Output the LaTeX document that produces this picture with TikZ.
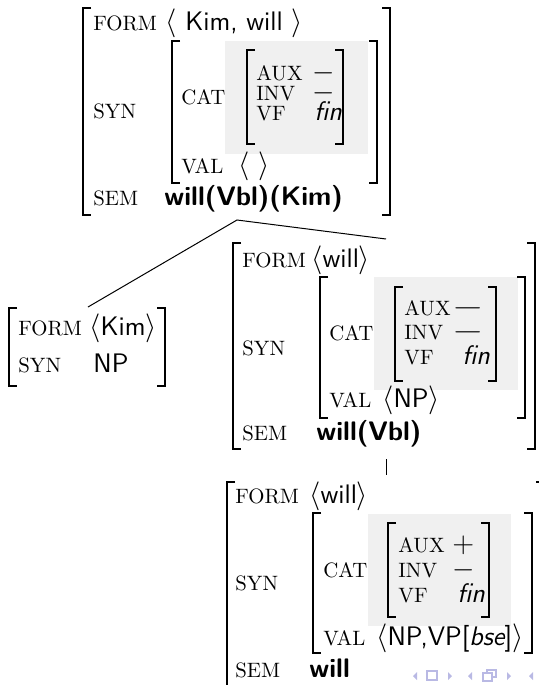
\documentclass[tikz,border=0pt]{standalone}
\definecolor{boxgray}{RGB}{240,240,240}
\definecolor{navcol}{RGB}{185,185,228}
\newcommand\avmL[3]{\draw[br] (#1+8,#2) -- (#1,#2) -- (#1,#3) -- (#1+8,#3);}
\newcommand\avmR[3]{\draw[br] (#1-8,#2) -- (#1,#2) -- (#1,#3) -- (#1-8,#3);}
\begin{document}
\begin{tikzpicture}[x=0.5pt,y=-0.5pt,
  fn/.style={anchor=base west,inner sep=0pt,font=\fontsize{10.4}{12}\selectfont\rmfamily},
  vl/.style={anchor=base west,inner sep=0pt,font=\fontsize{13.4}{15}\selectfont\sffamily},
  bv/.style={anchor=base west,inner sep=0pt,font=\fontsize{13.4}{15}\selectfont\sffamily\bfseries},
  br/.style={line width=0.65pt},
  tl/.style={line width=0.5pt},
  shade/.style={fill=boxgray,draw=none},
  nav/.style={fill=navcol,draw=none}]
\useasboundingbox (0,0) rectangle (539,685);
\clip (0,0) rectangle (539,685);

% ---------- top AVM ----------
\fill[shade] (225,41) rectangle (368,154);
\avmL{83}{8}{215} \avmR{390}{8}{215}
\avmL{172}{41}{183} \avmR{377}{41}{183}
\avmL{247}{50}{144} \avmR{343}{50}{144}
\node[fn] (t-form) at (93,31) {FORM};
\node[vl] (t-formv) at (165,31) {$\langle$ Kim, will $\rangle$};
\node[fn] (t-syn) at (93,118) {SYN};
\node[fn] (t-cat) at (181,104) {CAT};
\node[fn] (t-aux) at (256,80) {AUX};
\node[vl] (t-auxv) at (312,80) {$-$};
\node[fn] (t-inv) at (256,100) {INV};
\node[vl] (t-invv) at (312,100) {$-$};
\node[fn] (t-vf) at (256,120) {VF};
\node[vl] (t-vfv) at (314,120) {\itshape fin};
\node[fn] (t-val) at (181,173) {VAL};
\node[vl] (t-valv) at (238,173) {$\langle$\ $\rangle$};
\node[fn] (t-sem) at (93,205) {SEM};
\node[bv] (t-semv) at (164,205) {will(Vbl)(Kim)};

% ---------- tree lines ----------
\coordinate (apex) at (237,220);
\coordinate (kimtop) at (88,307);
\coordinate (willtop) at (386,239);
\coordinate (lexup) at (386,459);
\coordinate (lexdown) at (386,475);
\draw[tl] (kimtop) -- (apex) -- (willtop);
\draw[tl] (lexup) -- (lexdown);

% ---------- Kim AVM ----------
\avmL{9}{308}{386} \avmR{165}{308}{386}
\node[fn] (k-form) at (18,335) {FORM};
\node[vl] (k-formv) at (89,335) {$\langle$Kim$\rangle$};
\node[fn] (k-syn) at (18,372) {SYN};
\node[vl] (k-synv) at (93,372) {NP};

% ---------- middle AVM ----------
\fill[shade] (374,277) rectangle (518,390);
\avmL{233}{243}{449} \avmR{535}{243}{449}
\avmL{320}{277}{418} \avmR{525}{277}{418}
\avmL{395}{287}{381} \avmR{496}{287}{381}
\node[fn] (m-form) at (242,267) {FORM};
\node[vl] (m-formv) at (311,267) {$\langle$will$\rangle$};
\node[fn] (m-syn) at (242,355) {SYN};
\node[fn] (m-cat) at (329,340) {CAT};
\node[fn] (m-aux) at (404,315) {AUX};
\node[vl] (m-auxv) at (452,315) {\scalebox{1.4}[1]{$-$}};
\node[fn] (m-inv) at (404,339) {INV};
\node[vl] (m-invv) at (452,339) {\scalebox{1.4}[1]{$-$}};
\node[fn] (m-vf) at (404,364) {VF};
\node[vl] (m-vfv) at (462,364) {\itshape fin};
\node[fn] (m-val) at (329,407) {VAL};
\node[vl] (m-valv) at (382,407) {$\langle$NP$\rangle$};
\node[fn] (m-sem) at (242,440) {SEM};
\node[bv] (m-semv) at (316,440) {will(Vbl)};

% ---------- bottom AVM ----------
\fill[shade] (368,514) rectangle (511,626);
\avmL{227}{482}{720} \avmR{544}{482}{720}
\avmL{313}{513}{653} \avmR{532}{513}{653}
\avmL{388}{523}{617} \avmR{489}{523}{617}
\node[fn] (b-form) at (235,503) {FORM};
\node[vl] (b-formv) at (309,503) {$\langle$will$\rangle$};
\node[fn] (b-syn) at (235,590) {SYN};
\node[fn] (b-cat) at (323,577) {CAT};
\node[fn] (b-aux) at (398,552) {AUX};
\node[vl] (b-auxv) at (452,552) {$+$};
\node[fn] (b-inv) at (398,577) {INV};
\node[vl] (b-invv) at (452,577) {$-$};
\node[fn] (b-vf) at (398,602) {VF};
\node[vl] (b-vfv) at (457,602) {\itshape fin};
\node[fn] (b-val) at (323,645) {VAL};
\node[vl] (b-valv) at (376,645) {$\langle$NP,VP[{\itshape bse}]$\rangle$};
\node[fn] (b-sem) at (235,677) {SEM};
\node[bv] (b-semv) at (309,677) {will};

% ---------- navigation symbols ----------
\fill[nav] (417,672) -- (417,680) -- (413,676) -- cycle;
\draw[navcol,line width=0.6pt] (427,671) rectangle (437,680);
\fill[nav] (448,672) -- (448,680) -- (452,676) -- cycle;
\fill[nav] (472,672) -- (472,680) -- (468,676) -- cycle;
\draw[navcol,line width=0.6pt,fill=white] (487,670) rectangle (496,677);
\draw[navcol,line width=0.6pt,fill=white] (483,673) rectangle (492,681);
\fill[nav] (507,672) -- (507,680) -- (511,676) -- cycle;
\fill[nav] (533,672) -- (533,680) -- (529,676) -- cycle;
\end{tikzpicture}
\end{document}
